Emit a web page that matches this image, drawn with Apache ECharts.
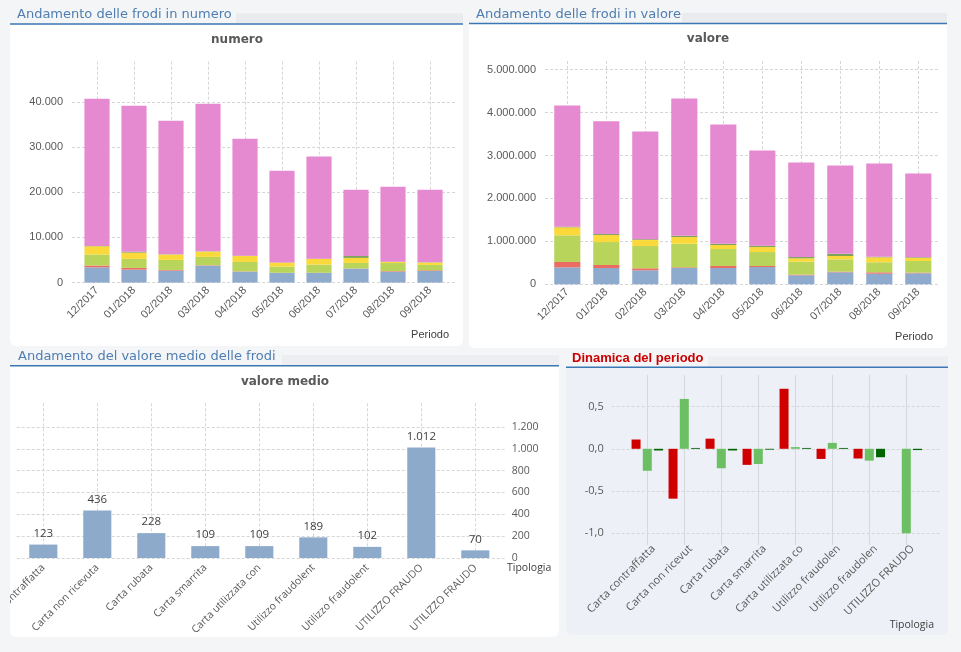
<!DOCTYPE html>
<html><head><meta charset="utf-8">
<script src="https://cdn.jsdelivr.net/npm/echarts@6/dist/echarts.min.js"></script>
<style>html,body{margin:0;padding:0;background:#f4f5f6;}#c{width:961px;height:652px;}</style>
</head><body><div id="c"></div>
<script>
// ---------- data ----------
const periodi = ['12/2017','01/2018','02/2018','03/2018','04/2018','05/2018','06/2018','07/2018','08/2018','09/2018'];

const numBlu        = [3380, 2870, 2650, 3760, 2430, 2140, 2140, 3090, 2430, 2580];
const numRosso      = [400, 380, 150, 80, 60, 40, 40, 40, 120, 150];
const numVerde      = [2430, 1990, 2220, 1840, 2080, 1360, 1800, 1220, 1800, 1180];
const numGiallo     = [1830, 1390, 1170, 1170, 1330, 880, 1260, 1110, 220, 510];
const numVerdeScuro = [60, 200, 60, 60, 60, 40, 60, 440, 60, 60];
const numRosa       = [32560, 32270, 29550, 32650, 25840, 20290, 22600, 14650, 16570, 16070];

const valBlu        = [395000, 379000, 326000, 379000, 379000, 402000, 209000, 279000, 247000, 256000];
const valRosso      = [124000, 70000, 46000, 16000, 47000, 24000, 16000, 16000, 32000, 16000];
const valVerde      = [621000, 535000, 519000, 549000, 395000, 325000, 301000, 286000, 233000, 270000];
const valGiallo     = [186000, 163000, 140000, 156000, 93000, 116000, 79000, 78000, 116000, 70000];
const valVerdeScuro = [14000, 23000, 19000, 30000, 30000, 31000, 30000, 53000, 12000, 16000];
const valRosa       = [2823000, 2628000, 2508000, 3196000, 2777000, 2218000, 2202000, 2055000, 2174000, 1953000];

const tipologie = ['Carta contraffatta','Carta non ricevuta','Carta rubata','Carta smarrita','Carta utilizzata con','Utilizzo fraudolento','Utilizzo fraudolento','UTILIZZO FRAUDOLENTO','UTILIZZO FRAUDOLENTO'];
const valoreMedio = [123, 436, 228, 109, 109, 189, 102, 1012, 70];

const tipologieDinamica = ['Carta contraffatta','Carta non ricevuta','Carta rubata','Carta smarrita','Carta utilizzata con','Utilizzo fraudolento','Utilizzo fraudolento','UTILIZZO FRAUDOLENTO'];
const dinRosso      = [0.11, -0.59, 0.12, -0.19, 0.71, -0.12, -0.115, 0];
const dinVerde      = [-0.26, 0.59, -0.23, -0.18, 0.02, 0.07, -0.14, -1.0];
const dinVerdeScuro = [-0.02, 0.01, -0.02, -0.01, 0.01, 0.01, -0.10, -0.015];

// axis scales
const numTicks = {min: 0, max: 40000, interval: 10000};
const valTicks = {min: 0, max: 5000000, interval: 1000000};
const medTicks = {min: 0, max: 1200, interval: 200};
const dinTicks = {min: -1, max: 0.5, interval: 0.5};

// ---------- styles ----------
const C = {blu:'#8eaacd', rosso:'#ea6c62', verde:'#b8d45b', giallo:'#fbd93a', verdeScuro:'#7fa35b', rosa:'#e58ad0'};
const fmtIt = v => String(Math.round(v)).replace(/\B(?=(\d{3})+(?!\d))/g, '.');
const fmtDec = v => v.toFixed(1).replace('.', ',');
const dash = {show:true, lineStyle:{color:'#d6d6d6', type:[3,2], width:1}};
const lab = {color:'#595959', fontFamily:'Liberation Sans', fontSize:11};
const labB = {color:'#595959', fontFamily:'Open Sans', fontSize:10.5};

function frameY(g, t, extra) {
  return Object.assign({type:'value', gridIndex:g, min:t.min, max:t.max, interval:t.interval,
    axisLine:{show:false}, axisTick:{show:false}, splitLine:dash}, extra);
}
function hiddenX(g){ return {type:'value', gridIndex:g, min:0, max:1, show:false}; }
function dataX(g, cats, labelExtra, splitColor, splitType, noSplit) {
  return {type:'category', gridIndex:g, data:cats,
    axisLine:{show:false, onZero:false}, axisTick:{show:false},
    splitLine:{show:!noSplit, interval:0, alignWithLabel:true, lineStyle:{color:splitColor||'#d6d6d6', type:splitType||[3,2], width:1}},
    axisLabel:Object.assign({interval:0, rotate:45}, labelExtra)};
}
function hiddenY(g, min, max){ return {type:'value', gridIndex:g, min:min, max:max, show:false}; }

function stack(name, data, color, xi, st, bw) {
  return {type:'bar', name:name, data:data, stack:st, xAxisIndex:xi, yAxisIndex:xi,
    barWidth:bw, itemStyle:{color:color}, emphasis:{disabled:true}};
}

const G = {outerBoundsMode:'none', containLabel:false};
const option = {
  animation:false,
  backgroundColor:'#f4f5f6',
  grid:[
    Object.assign({left:72, top:101.8, width:384, height:180.8}, G),
    Object.assign({left:78.5, top:61.7, width:370, height:220.9}, G),
    Object.assign({left:545, top:69.6, width:395, height:214.7}, G),
    Object.assign({left:547.8, top:61, width:390, height:223.3}, G),
    Object.assign({left:16.7, top:427, width:490, height:131}, G),
    Object.assign({left:16.3, top:403.3, width:486, height:154.7}, G),
    Object.assign({left:611.7, top:406.5, width:328.3, height:126.8}, G),
    Object.assign({left:628.8, top:375, width:296, height:170}, G),
    Object.assign({left:635, top:375, width:296, height:164}, G)
  ],
  xAxis:[
    hiddenX(0),
    dataX(1, periodi, Object.assign({margin:6}, lab)),
    hiddenX(2),
    dataX(3, periodi, Object.assign({margin:6}, lab)),
    hiddenX(4),
    dataX(5, tipologie, Object.assign({margin:8, width:95, overflow:'truncate', ellipsis:''}, labB)),
    hiddenX(6),
    dataX(7, tipologieDinamica, {show:false}, '#d3d8df', 'solid'),
    dataX(8, tipologieDinamica, Object.assign({margin:8, width:95, overflow:'truncate', ellipsis:''}, labB, {fontSize:11}), null, null, true)
  ],
  yAxis:[
    frameY(0, numTicks, {axisLabel:Object.assign({margin:9, formatter:fmtIt}, lab)}),
    hiddenY(1, 0, 48871),
    frameY(2, valTicks, {axisLabel:Object.assign({margin:9, formatter:fmtIt}, lab)}),
    hiddenY(3, 0, 5200279),
    frameY(4, medTicks, {position:'right', axisLabel:Object.assign({margin:5, formatter:fmtIt}, labB)}),
    hiddenY(5, 0, 1417),
    frameY(6, dinTicks, {axisLabel:Object.assign({margin:8, formatter:fmtDec}, labB, {fontSize:11})}),
    hiddenY(7, -1.138, 0.873),
    hiddenY(8, 0, 1)
  ],
  series:[
    stack('Carta rubata', numBlu, C.blu, 1, 'n', '68%'),
    stack('Carta smarrita', numRosso, C.rosso, 1, 'n', '68%'),
    stack('Carta contraffatta', numVerde, C.verde, 1, 'n', '68%'),
    stack('Carta non ricevuta', numGiallo, C.giallo, 1, 'n', '68%'),
    stack('Carta utilizzata con', numVerdeScuro, C.verdeScuro, 1, 'n', '68%'),
    stack('Utilizzo fraudolento', numRosa, C.rosa, 1, 'n', '68%'),

    stack('Carta rubata', valBlu, C.blu, 3, 'v', '67%'),
    stack('Carta smarrita', valRosso, C.rosso, 3, 'v', '67%'),
    stack('Carta contraffatta', valVerde, C.verde, 3, 'v', '67%'),
    stack('Carta non ricevuta', valGiallo, C.giallo, 3, 'v', '67%'),
    stack('Carta utilizzata con', valVerdeScuro, C.verdeScuro, 3, 'v', '67%'),
    stack('Utilizzo fraudolento', valRosa, C.rosa, 3, 'v', '67%'),

    {type:'bar', name:'valore medio', data:valoreMedio, xAxisIndex:5, yAxisIndex:5, barWidth:'52%',
      itemStyle:{color:'#8eaacb'}, emphasis:{disabled:true},
      label:{show:true, position:'top', distance:5, formatter:p => fmtIt(p.value), color:'#404040', fontFamily:'Open Sans', fontSize:11.5}},

    {type:'bar', name:'Var. numero', data:dinRosso, xAxisIndex:7, yAxisIndex:7, barWidth:9, barGap:'25%', itemStyle:{color:'#cf0000'}, emphasis:{disabled:true}},
    {type:'bar', name:'Var. valore', data:dinVerde, xAxisIndex:7, yAxisIndex:7, barWidth:9, barGap:'25%', itemStyle:{color:'#6cbf63'}, emphasis:{disabled:true}},
    {type:'bar', name:'Var. valore medio', data:dinVerdeScuro, xAxisIndex:7, yAxisIndex:7, barWidth:9, barGap:'25%', itemStyle:{color:'#006400'}, emphasis:{disabled:true}}
  ],
  graphic:{elements:[
    // panels
    {type:'rect', z:-10, shape:{x:10, y:24.5, width:453, height:321.5, r:[0,0,6,6]}, style:{fill:'#ffffff'}},
    {type:'rect', z:-10, shape:{x:469, y:24, width:478, height:324, r:[0,0,6,6]}, style:{fill:'#ffffff'}},
    {type:'rect', z:-10, shape:{x:10, y:366, width:549, height:271, r:[0,0,6,6]}, style:{fill:'#ffffff'}},
    {type:'rect', z:-10, shape:{x:566, y:368, width:382, height:267, r:[0,0,6,6]}, style:{fill:'#edf1f7'}},
    // header bands
    {type:'rect', z:-10, shape:{x:236, y:13.5, width:227, height:10}, style:{fill:'#e9ebee'}},
    {type:'rect', z:-10, shape:{x:682, y:13, width:265, height:10}, style:{fill:'#e9ebee'}},
    {type:'rect', z:-10, shape:{x:282, y:355, width:277, height:10}, style:{fill:'#eceef1'}},
    {type:'rect', z:-10, shape:{x:708, y:356.5, width:240, height:10}, style:{fill:'#eceef1'}},
    // blue underlines
    {type:'rect', z:-9, shape:{x:10, y:23.3, width:453, height:1.4}, style:{fill:'#3b77b3'}},
    {type:'rect', z:-9, shape:{x:469, y:22.8, width:478, height:1.4}, style:{fill:'#3b77b3'}},
    {type:'rect', z:-9, shape:{x:10, y:365, width:549, height:1.4}, style:{fill:'#3b77b3'}},
    {type:'rect', z:-9, shape:{x:566, y:366.6, width:382, height:1.4}, style:{fill:'#3b77b3'}},
    // titles
    {type:'text', z:10, x:17, y:15, style:{text:'Andamento delle frodi in numero', fill:'#4f7db2', font:'13px "DejaVu Sans"', verticalAlign:'middle'}},
    {type:'text', z:10, x:476, y:14.5, style:{text:'Andamento delle frodi in valore', fill:'#4f7db2', font:'13px "DejaVu Sans"', verticalAlign:'middle'}},
    {type:'text', z:10, x:18, y:356.5, style:{text:'Andamento del valore medio delle frodi', fill:'#4f7db2', font:'13px "DejaVu Sans"', verticalAlign:'middle'}},
    {type:'text', z:10, x:572, y:358, style:{text:'Dinamica del periodo', fill:'#cc0000', font:'bold 13px "Liberation Sans"', verticalAlign:'middle'}},
    // chart subtitles
    {type:'text', z:10, x:237, y:40, style:{text:'numero', fill:'#595959', font:'bold 12px "DejaVu Sans"', align:'center', verticalAlign:'middle'}},
    {type:'text', z:10, x:708, y:38.5, style:{text:'valore', fill:'#595959', font:'bold 12px "DejaVu Sans"', align:'center', verticalAlign:'middle'}},
    {type:'text', z:10, x:285, y:382, style:{text:'valore medio', fill:'#595959', font:'bold 12px "DejaVu Sans"', align:'center', verticalAlign:'middle'}},
    // axis names
    {type:'text', z:10, x:449, y:335, style:{text:'Periodo', fill:'#404040', font:'11px "Liberation Sans"', align:'right', verticalAlign:'middle'}},
    {type:'text', z:10, x:933, y:337, style:{text:'Periodo', fill:'#404040', font:'11px "Liberation Sans"', align:'right', verticalAlign:'middle'}},
    {type:'text', z:10, x:507, y:568.5, style:{text:'Tipologia', fill:'#404040', font:'10.5px "Open Sans"', align:'left', verticalAlign:'middle'}},
    {type:'text', z:10, x:934, y:625, style:{text:'Tipologia', fill:'#404040', font:'10.5px "Open Sans"', align:'right', verticalAlign:'middle'}},
    // clip of labels outside the bottom-left panel
    {type:'rect', z:100, shape:{x:0, y:560, width:10, height:92}, style:{fill:'#f4f5f6'}}
  ]}
};
const chart = echarts.init(document.getElementById('c'), null, {renderer:'canvas', width:961, height:652});
chart.setOption(option);
</script>
</body></html>
